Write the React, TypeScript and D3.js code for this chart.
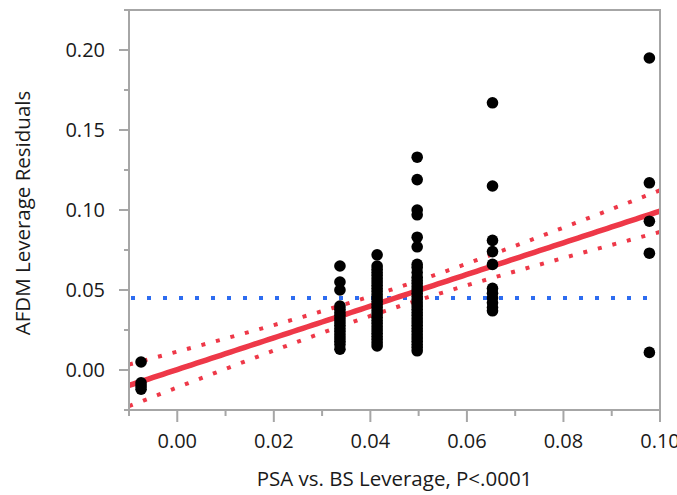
import React from "react";
import * as d3 from "d3";

// ---- data ----
const columnX = [-0.0075, 0.0337, 0.0414, 0.0497, 0.0653, 0.0978];
const col0Y = [0.005, -0.008, -0.010, -0.012];
const col1Y = [0.065, 0.055, 0.050, 0.040, 0.038, 0.036, 0.034, 0.032, 0.030, 0.028, 0.026, 0.024, 0.022, 0.020, 0.018, 0.016, 0.013];
const col2Y = [0.072, 0.065, 0.063, 0.061, 0.059, 0.057, 0.055, 0.053, 0.051, 0.049, 0.047, 0.045, 0.043, 0.041, 0.039, 0.037, 0.035, 0.033, 0.031, 0.029, 0.027, 0.025, 0.023, 0.021, 0.019, 0.017, 0.015];
const col3Y = [0.133, 0.119, 0.100, 0.097, 0.083, 0.077, 0.066, 0.064, 0.061, 0.058, 0.056, 0.054, 0.052, 0.050, 0.048, 0.046, 0.044, 0.042, 0.040, 0.038, 0.036, 0.034, 0.032, 0.030, 0.028, 0.026, 0.024, 0.022, 0.020, 0.018, 0.016, 0.014, 0.012];
const col4Y = [0.167, 0.115, 0.081, 0.074, 0.066, 0.051, 0.048, 0.045, 0.042, 0.039, 0.037];
const col5Y = [0.195, 0.117, 0.093, 0.073, 0.011];
const columnsY = [col0Y, col1Y, col2Y, col3Y, col4Y, col5Y];

const fitIntercept = 0.0003;
const fitSlope = 0.99;
const meanY = 0.045;
const meanX = 0.045;
const bandA = 0.006;
const bandB = 0.21;

const xMajorTicks = [0.0, 0.02, 0.04, 0.06, 0.08, 0.1];
const xMinorTicks = [-0.01, 0.01, 0.03, 0.05, 0.07, 0.09];
const yMajorTicks = [0.0, 0.05, 0.1, 0.15, 0.2];
const yMinorTicks = [-0.025, 0.025, 0.075, 0.125, 0.175, 0.225];

const xTitle = "PSA vs. BS Leverage, P<.0001";
const yTitle = "AFDM Leverage Residuals";

export default function App() {
  const W = 677, H = 495;
  const left = 129, right = 660, top = 10, bottom = 410;
  const x = d3.scaleLinear().domain([-0.01, 0.1]).range([left, right]);
  const y = d3.scaleLinear().domain([-0.025, 0.225]).range([bottom, top]);

  const points: { px: number; py: number }[] = [];
  columnsY.forEach((ys, i) => ys.forEach((v) => points.push({ px: x(columnX[i]), py: y(v) })));

  const grid = d3.range(-0.01, 0.1 + 1e-9, 0.001);
  const fit = (v: number) => fitIntercept + fitSlope * v;
  const hw = (v: number) => Math.sqrt(bandA * bandA + bandB * bandB * (v - meanX) * (v - meanX));
  const fitPath = d3.line<number>().x((v) => x(v)).y((v) => y(fit(v)))(grid) as string;
  const upperPath = d3.line<number>().x((v) => x(v)).y((v) => y(fit(v) + hw(v)))(grid) as string;
  const lowerPath = d3.line<number>().x((v) => x(v)).y((v) => y(fit(v) - hw(v)))(grid) as string;

  const font = "'Open Sans', 'Noto Sans', sans-serif";
  const red = "#ee3848";
  const blue = "#2d6cf0";
  const frame = "#a6a6a6";
  const tickFs = 20;
  const titleFs = 20.5;

  return (
    <svg width={W} height={H} style={{ position: "absolute", left: 0, top: 0 }} fontFamily={font}>
      <rect x={0} y={0} width={W} height={H} fill="#fff" />
      <defs>
        <clipPath id="plot">
          <rect x={left} y={top} width={right - left} height={bottom - top} />
        </clipPath>
      </defs>
      <g clipPath="url(#plot)">
        <line x1={left} x2={right} y1={y(meanY)} y2={y(meanY)} stroke={blue} strokeWidth={4} strokeDasharray="4 12" strokeDashoffset={-2} />
        <path d={upperPath} fill="none" stroke={red} strokeWidth={4} strokeDasharray="4 11" />
        <path d={lowerPath} fill="none" stroke={red} strokeWidth={4} strokeDasharray="4 11" />
        <path d={fitPath} fill="none" stroke={red} strokeWidth={5.5} />
        {points.map((p, i) => (
          <circle key={i} cx={p.px} cy={p.py} r={5.8} fill="#000" />
        ))}
      </g>
      <rect x={left} y={top} width={right - left} height={bottom - top} fill="none" stroke={frame} strokeWidth={2} />
      {xMajorTicks.map((t) => (
        <g key={"xm" + t}>
          <line x1={x(t)} x2={x(t)} y1={bottom} y2={bottom + 12} stroke={frame} strokeWidth={2} />
          <text x={x(t)} y={448} textAnchor="middle" fontSize={tickFs} fill="#1a1a1a">{t.toFixed(2)}</text>
        </g>
      ))}
      {xMinorTicks.map((t) => (
        <line key={"xn" + t} x1={x(t)} x2={x(t)} y1={bottom} y2={bottom + 6} stroke={frame} strokeWidth={2} />
      ))}
      {yMajorTicks.map((t) => (
        <g key={"ym" + t}>
          <line x1={left - 10} x2={left} y1={y(t)} y2={y(t)} stroke={frame} strokeWidth={2} />
          <text x={105} y={y(t)} dy="0.36em" textAnchor="end" fontSize={tickFs} fill="#1a1a1a">{t.toFixed(2)}</text>
        </g>
      ))}
      {yMinorTicks.map((t) => (
        <line key={"yn" + t} x1={left - 5} x2={left} y1={y(t)} y2={y(t)} stroke={frame} strokeWidth={2} />
      ))}
      <text x={(left + right) / 2} y={486} textAnchor="middle" fontSize={titleFs} fill="#1a1a1a">{xTitle}</text>
      <text transform={`translate(30,213) rotate(-90)`} textAnchor="middle" fontSize={titleFs} fill="#1a1a1a">{yTitle}</text>
    </svg>
  );
}
